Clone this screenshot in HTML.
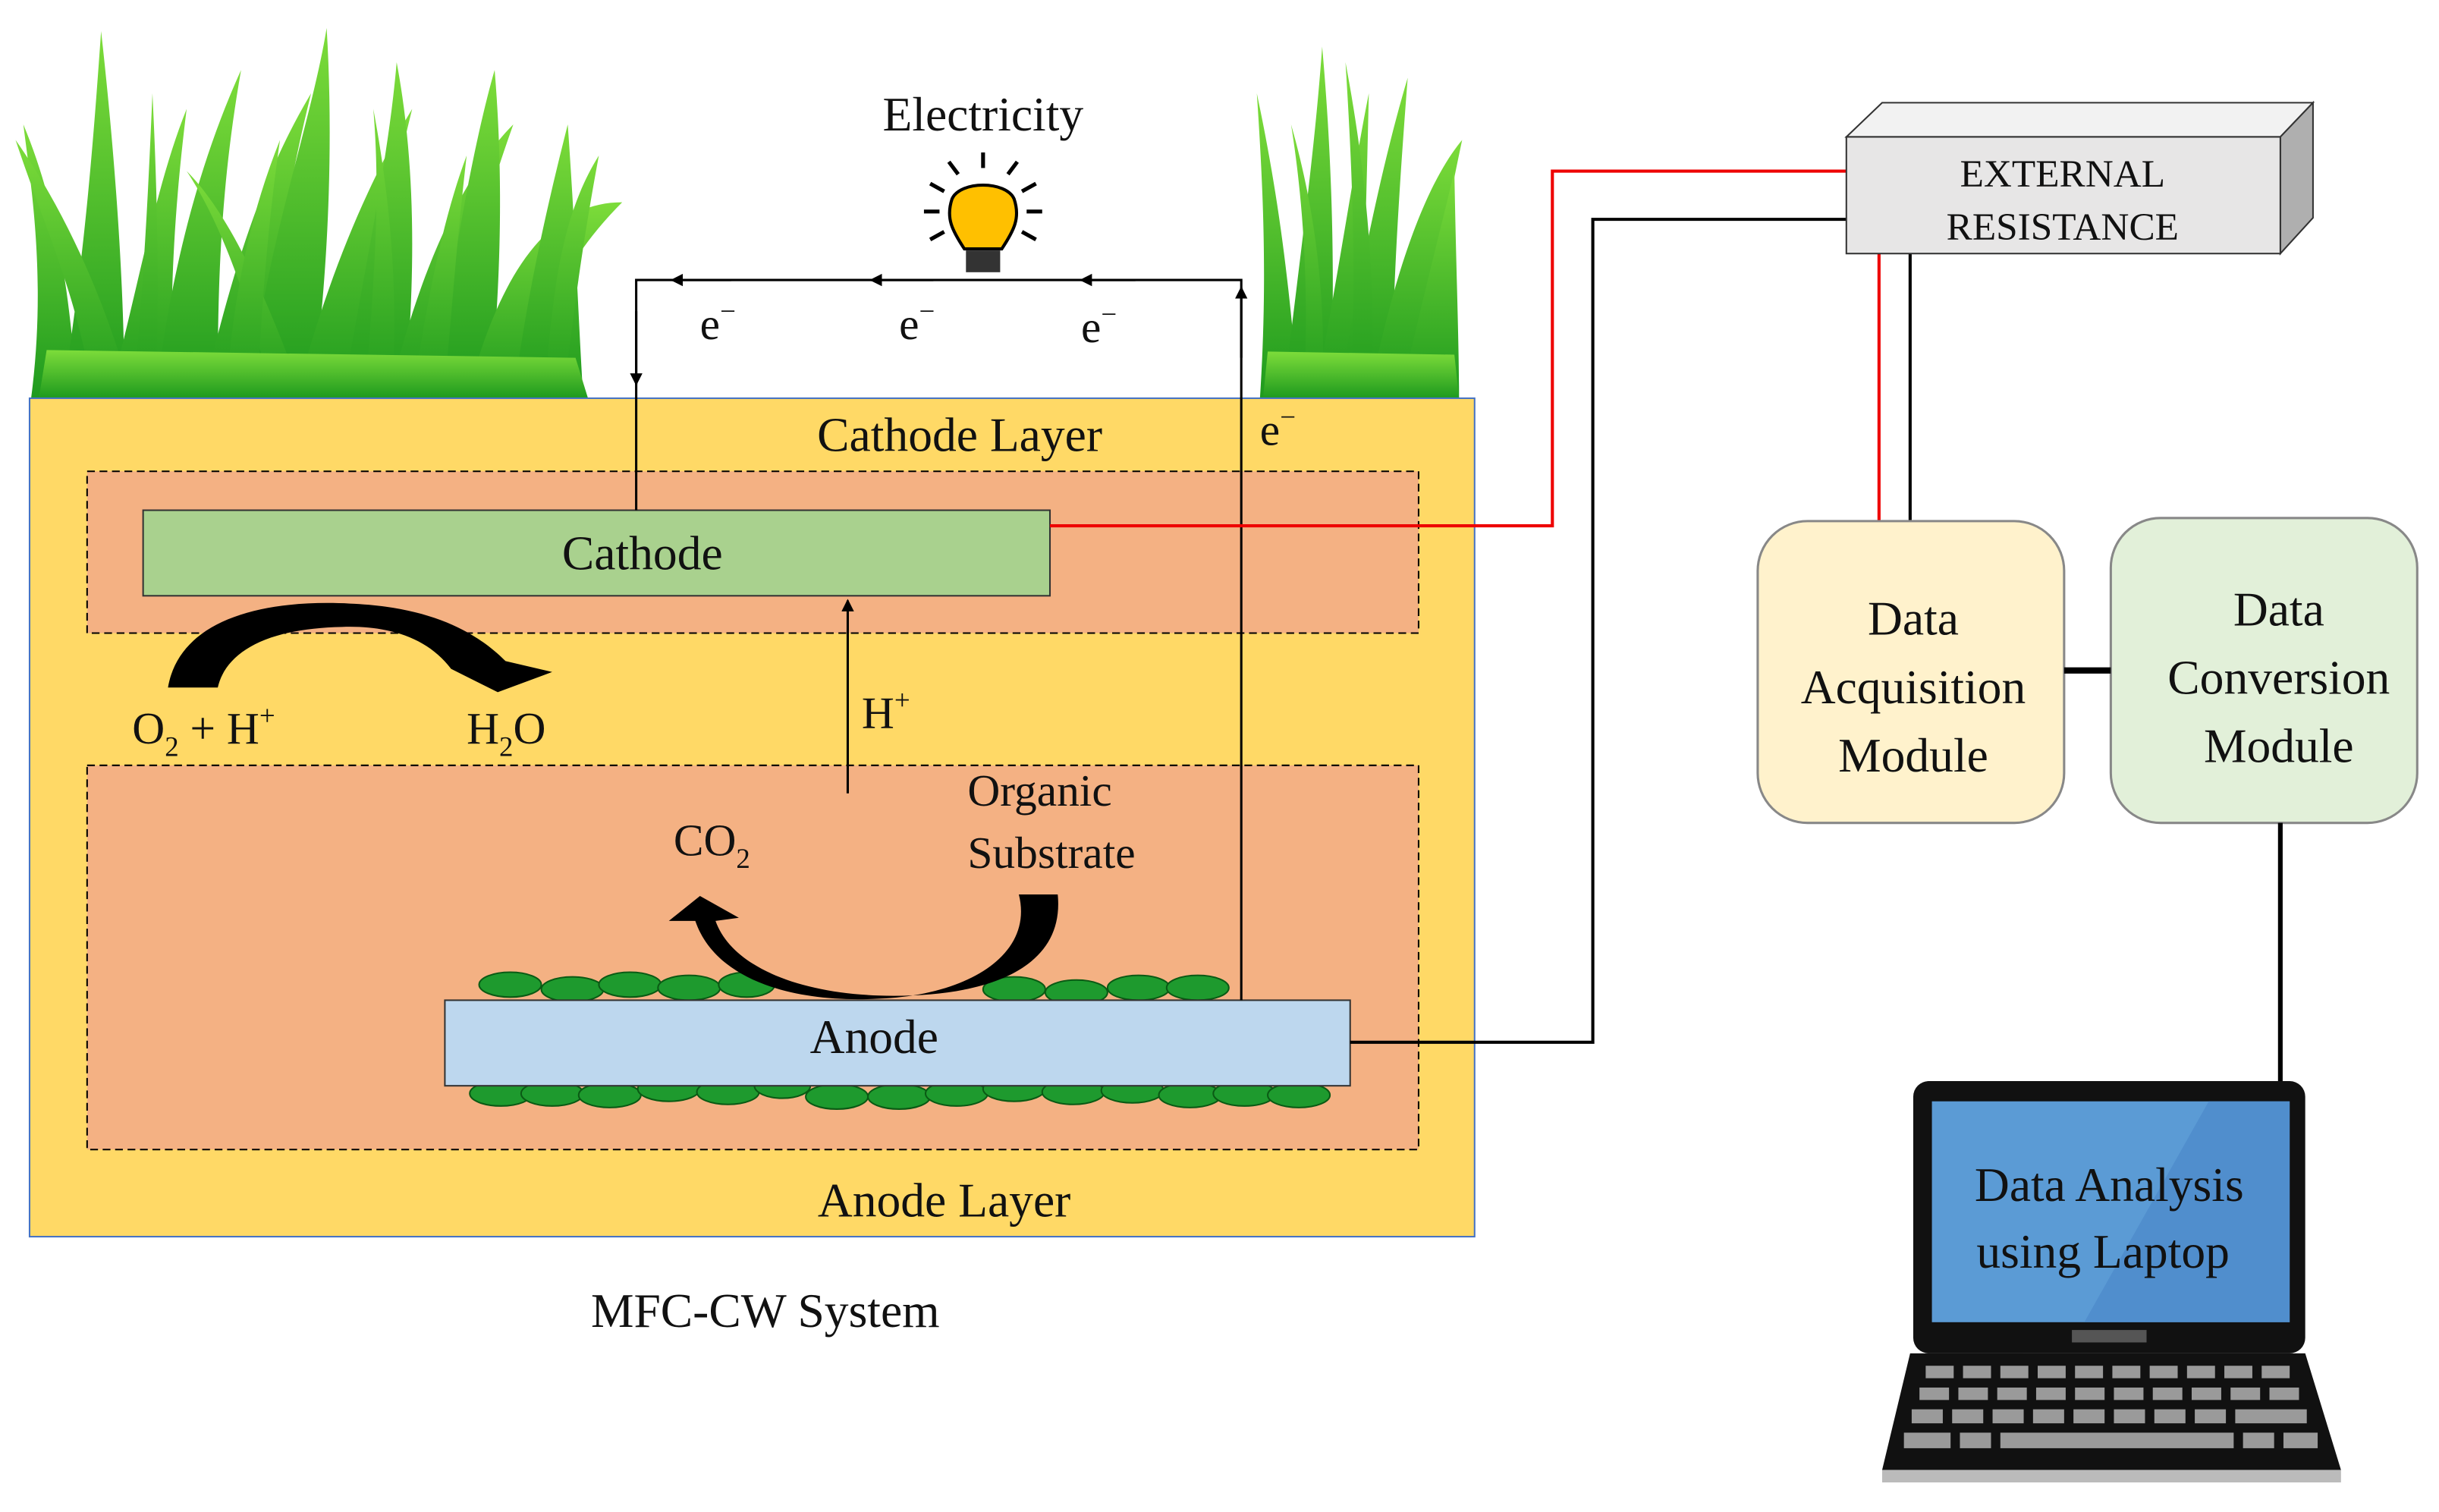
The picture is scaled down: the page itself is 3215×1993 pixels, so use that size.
<!DOCTYPE html>
<html><head><meta charset="utf-8"><style>
html,body{margin:0;padding:0;background:#fff}
svg{display:block}
text{font-family:"Liberation Serif",serif;fill:#111}
</style></head><body>
<svg width="3215" height="1993" viewBox="0 0 1568 972" xmlns="http://www.w3.org/2000/svg" font-family="Liberation Serif, serif">
<defs>
<marker id="ah" markerWidth="8" markerHeight="8" refX="7" refY="4" orient="auto" markerUnits="userSpaceOnUse"><path d="M0,0 L8,4 L0,8 Z" fill="#000"/></marker>
<linearGradient id="g1" x1="0" y1="0" x2="0" y2="1"><stop offset="0" stop-color="#7ddc3a"/><stop offset="1" stop-color="#1e9a1e"/></linearGradient>
</defs>
<!-- grass left -->
<g fill="url(#g1)">
<path d="M20,256 C30,180 20,120 15,80 C40,140 45,200 50,256Z"/>
<path d="M40,256 C55,160 60,90 65,20 C75,110 80,190 80,256Z"/>
<path d="M70,256 C90,180 100,120 120,70 C110,150 110,200 110,256Z"/>
<path d="M100,256 C110,170 130,100 155,45 C140,130 140,200 140,256Z"/>
<path d="M130,256 C150,170 170,110 200,60 C180,140 175,200 170,256Z"/>
<path d="M160,256 C170,160 200,80 210,18 C215,100 210,190 200,256Z"/>
<path d="M190,256 C210,180 235,120 265,70 C245,150 240,200 235,256Z"/>
<path d="M220,256 C235,170 250,100 255,40 C270,120 265,200 260,256Z"/>
<path d="M250,256 C270,170 300,110 330,80 C305,150 295,200 290,256Z"/>
<path d="M280,256 C290,170 305,90 318,45 C325,130 320,200 315,256Z"/>
<path d="M300,256 C320,180 350,130 400,130 C360,170 345,210 340,256Z"/>
<path d="M330,256 C340,180 355,120 365,80 C370,150 372,210 375,256Z"/>
<path d="M60,256 C50,190 30,150 10,90 C45,140 70,200 85,256Z"/>
<path d="M175,256 C160,190 140,140 120,110 C150,140 175,200 195,256Z"/>
<path d="M85,256 C92,190 95,130 98,60 C102,140 102,200 100,256Z"/>
<path d="M145,256 C150,190 160,140 180,90 C170,160 168,210 165,256Z"/>
<path d="M235,256 C240,180 245,130 240,70 C255,150 255,210 252,256Z"/>
<path d="M265,256 C275,190 285,140 300,100 C292,170 290,210 285,256Z"/>
<path d="M350,256 C355,190 360,140 385,100 C372,170 368,210 362,256Z"/>
<path d="M25,256 L378,256 L370,230 L30,225Z"/>
</g>
<!-- grass right -->
<g fill="url(#g1)">
<path d="M810,256 C815,180 812,120 808,60 C825,140 830,200 835,256Z"/>
<path d="M825,256 C835,170 845,100 850,30 C858,120 858,200 855,256Z"/>
<path d="M845,256 C860,180 870,110 880,60 C878,150 876,200 875,256Z"/>
<path d="M860,256 C875,170 890,100 905,50 C898,140 895,200 895,256Z"/>
<path d="M880,256 C895,180 915,120 940,90 C925,160 918,210 915,256Z"/>
<path d="M900,256 C915,190 928,140 935,110 C936,170 938,220 938,256Z"/>
<path d="M838,256 C842,190 838,130 830,80 C850,150 852,210 850,256Z"/>
<path d="M868,256 C872,180 870,120 865,40 C882,130 884,200 882,256Z"/>
<path d="M812,256 L938,256 L935,228 L815,226Z"/>
</g>
<!-- main box -->
<rect x="19" y="256" width="929" height="539" fill="#FFD966" stroke="#4472C4" stroke-width="1"/>
<rect x="56" y="303" width="856" height="104" fill="#F4B183" stroke="#000" stroke-width="1" stroke-dasharray="5,3"/>
<rect x="56" y="492" width="856" height="247" fill="#F4B183" stroke="#000" stroke-width="1" stroke-dasharray="5,3"/>
<rect x="92" y="328" width="583" height="55" fill="#A9D18E" stroke="#333" stroke-width="1"/>
<text x="413" y="366" font-size="31" text-anchor="middle">Cathode</text>
<text x="617" y="290" font-size="31" text-anchor="middle">Cathode Layer</text>
<text x="607" y="782" font-size="31" text-anchor="middle">Anode Layer</text>
<text x="492" y="853" font-size="31" text-anchor="middle">MFC-CW System</text>
<text x="632" y="84" font-size="31" text-anchor="middle">Electricity</text>
<!-- bacteria -->
<g fill="#1e9a2e" stroke="#0a5a14" stroke-width="1">
<ellipse cx="328" cy="633" rx="20" ry="8"/><ellipse cx="368" cy="636" rx="20" ry="8"/><ellipse cx="405" cy="633" rx="20" ry="8"/><ellipse cx="443" cy="635" rx="20" ry="8"/><ellipse cx="480" cy="633" rx="18" ry="8"/>
<ellipse cx="652" cy="636" rx="20" ry="8"/><ellipse cx="692" cy="638" rx="20" ry="8"/><ellipse cx="732" cy="635" rx="20" ry="8"/><ellipse cx="770" cy="635" rx="20" ry="8"/>
<ellipse cx="322" cy="703" rx="20" ry="8"/><ellipse cx="355" cy="703" rx="20" ry="8"/><ellipse cx="392" cy="704" rx="20" ry="8"/><ellipse cx="430" cy="700" rx="20" ry="8"/><ellipse cx="468" cy="702" rx="20" ry="8"/><ellipse cx="503" cy="698" rx="18" ry="8"/><ellipse cx="538" cy="705" rx="20" ry="8"/><ellipse cx="578" cy="705" rx="20" ry="8"/><ellipse cx="615" cy="703" rx="20" ry="8"/><ellipse cx="652" cy="700" rx="20" ry="8"/><ellipse cx="690" cy="702" rx="20" ry="8"/><ellipse cx="728" cy="701" rx="20" ry="8"/><ellipse cx="765" cy="704" rx="20" ry="8"/><ellipse cx="800" cy="703" rx="20" ry="8"/><ellipse cx="835" cy="704" rx="20" ry="8"/>
</g>
<rect x="286" y="643" width="582" height="55" fill="#BDD7EE" stroke="#333" stroke-width="1"/>
<text x="562" y="677" font-size="31" text-anchor="middle">Anode</text>
<!-- circuit -->
<g stroke="#000" stroke-width="1.5" fill="none">
<path d="M409,328 L409,180 L798,180 L798,643"/>
<line x1="470" y1="180" x2="432" y2="180" marker-end="url(#ah)"/>
<line x1="600" y1="180" x2="560" y2="180" marker-end="url(#ah)"/>
<line x1="730" y1="180" x2="695" y2="180" marker-end="url(#ah)"/>
<line x1="409" y1="200" x2="409" y2="247" marker-end="url(#ah)"/>
<line x1="798" y1="230" x2="798" y2="185" marker-end="url(#ah)"/>
<line x1="545" y1="510" x2="545" y2="386" marker-end="url(#ah)"/>
</g>
<g font-size="29">
<text x="450" y="218">e<tspan font-size="18" dy="-12">−</tspan></text>
<text x="578" y="218">e<tspan font-size="18" dy="-12">−</tspan></text>
<text x="695" y="220">e<tspan font-size="18" dy="-12">−</tspan></text>
<text x="810" y="286">e<tspan font-size="18" dy="-12">−</tspan></text>
<text x="554" y="468">H<tspan font-size="18" dy="-12">+</tspan></text>
<text x="85" y="478">O<tspan font-size="18" dy="8">2</tspan><tspan dy="-8"> + H</tspan><tspan font-size="18" dy="-12">+</tspan></text>
<text x="300" y="478">H<tspan font-size="18" dy="8">2</tspan><tspan dy="-8">O</tspan></text>
<text x="433" y="550">CO<tspan font-size="18" dy="8">2</tspan></text>
<text x="622" y="518">Organic</text>
<text x="622" y="558">Substrate</text>
</g>
<!-- bulb -->
<g>
<g stroke="#000" stroke-width="2.5">
<line x1="632" y1="98" x2="632" y2="108"/><line x1="610" y1="104" x2="616" y2="112"/><line x1="654" y1="104" x2="648" y2="112"/>
<line x1="598" y1="118" x2="607" y2="123"/><line x1="666" y1="118" x2="657" y2="123"/>
<line x1="594" y1="136" x2="604" y2="136"/><line x1="670" y1="136" x2="660" y2="136"/>
<line x1="598" y1="154" x2="607" y2="149"/><line x1="666" y1="154" x2="657" y2="149"/>
</g>
<path d="M620,160 C612,148 608,140 612,128 C617,116 647,116 652,128 C656,140 652,148 644,160Z" fill="#FFC000" stroke="#000" stroke-width="2"/>
<rect x="621" y="161" width="22" height="14" fill="#333"/>
</g>
<!-- curved arrows -->
<path d="M108,442 C115,400 165,385 225,388 C275,390 305,405 325,425 L355,432 L320,445 L290,430 C275,410 250,402 220,403 C170,404 145,420 140,442Z" fill="#000"/>
<path d="M680,575 C685,625 630,642 565,640 C510,638 470,620 460,592 L475,590 L450,576 L430,592 L447,592 C460,630 510,645 565,642 C620,640 665,615 655,575Z" fill="#000"/>
<!-- external wiring -->
<path d="M675,338 L998,338 L998,110 L1187,110" stroke="#E00" stroke-width="2" fill="none"/>
<path d="M868,670 L1024,670 L1024,141 L1187,141" stroke="#000" stroke-width="2" fill="none"/>
<line x1="1208" y1="163" x2="1208" y2="335" stroke="#E00" stroke-width="2"/>
<line x1="1228" y1="163" x2="1228" y2="335" stroke="#000" stroke-width="2"/>
<!-- resistance box -->
<path d="M1187,88 L1210,66 L1487,66 L1466,88Z" fill="#F2F2F2" stroke="#333"/>
<path d="M1466,88 L1487,66 L1487,140 L1466,163Z" fill="#AFAFAF" stroke="#333"/>
<rect x="1187" y="88" width="279" height="75" fill="#E7E6E6" stroke="#333"/>
<text x="1326" y="120" font-size="25" text-anchor="middle">EXTERNAL</text>
<text x="1326" y="154" font-size="25" text-anchor="middle">RESISTANCE</text>
<!-- modules -->
<rect x="1130" y="335" width="197" height="194" rx="32" fill="#FFF2CC" stroke="#888" stroke-width="1.5"/>
<text x="1230" y="408" font-size="31" text-anchor="middle">Data</text>
<text x="1230" y="452" font-size="31" text-anchor="middle">Acquisition</text>
<text x="1230" y="496" font-size="31" text-anchor="middle">Module</text>
<rect x="1357" y="333" width="197" height="196" rx="32" fill="#E2F0D9" stroke="#888" stroke-width="1.5"/>
<text x="1465" y="402" font-size="31" text-anchor="middle">Data</text>
<text x="1465" y="446" font-size="31" text-anchor="middle">Conversion</text>
<text x="1465" y="490" font-size="31" text-anchor="middle">Module</text>
<line x1="1327" y1="431" x2="1357" y2="431" stroke="#000" stroke-width="4"/>
<line x1="1466" y1="529" x2="1466" y2="697" stroke="#000" stroke-width="3"/>
<!-- laptop -->
<rect x="1230" y="695" width="252" height="175" rx="10" fill="#111"/>
<rect x="1242" y="708" width="230" height="142" fill="#5B9BD5"/>
<path d="M1420,708 L1472,708 L1472,850 L1340,850Z" fill="#4a86c8" opacity="0.6"/>
<rect x="1332" y="855" width="48" height="8" fill="#555"/>
<path d="M1228,870 L1482,870 L1505,945 L1210,945Z" fill="#111"/>
<path d="M1210,945 L1505,945 L1505,953 L1210,953Z" fill="#bbb"/>
<g fill="#9a9a9a">
<rect x="1238" y="878" width="18" height="8"/><rect x="1262" y="878" width="18" height="8"/><rect x="1286" y="878" width="18" height="8"/><rect x="1310" y="878" width="18" height="8"/><rect x="1334" y="878" width="18" height="8"/><rect x="1358" y="878" width="18" height="8"/><rect x="1382" y="878" width="18" height="8"/><rect x="1406" y="878" width="18" height="8"/><rect x="1430" y="878" width="18" height="8"/><rect x="1454" y="878" width="18" height="8"/>
<rect x="1234" y="892" width="19" height="8"/><rect x="1259" y="892" width="19" height="8"/><rect x="1284" y="892" width="19" height="8"/><rect x="1309" y="892" width="19" height="8"/><rect x="1334" y="892" width="19" height="8"/><rect x="1359" y="892" width="19" height="8"/><rect x="1384" y="892" width="19" height="8"/><rect x="1409" y="892" width="19" height="8"/><rect x="1434" y="892" width="19" height="8"/><rect x="1459" y="892" width="19" height="8"/>
<rect x="1229" y="906" width="20" height="9"/><rect x="1255" y="906" width="20" height="9"/><rect x="1281" y="906" width="20" height="9"/><rect x="1307" y="906" width="20" height="9"/><rect x="1333" y="906" width="20" height="9"/><rect x="1359" y="906" width="20" height="9"/><rect x="1385" y="906" width="20" height="9"/><rect x="1411" y="906" width="20" height="9"/><rect x="1437" y="906" width="46" height="9"/>
<rect x="1224" y="921" width="30" height="10"/><rect x="1260" y="921" width="20" height="10"/><rect x="1286" y="921" width="150" height="10"/><rect x="1442" y="921" width="20" height="10"/><rect x="1468" y="921" width="22" height="10"/>
</g>
<text x="1356" y="772" font-size="31" text-anchor="middle">Data Analysis</text>
<text x="1352" y="815" font-size="31" text-anchor="middle">using Laptop</text>
</svg>
</body></html>
